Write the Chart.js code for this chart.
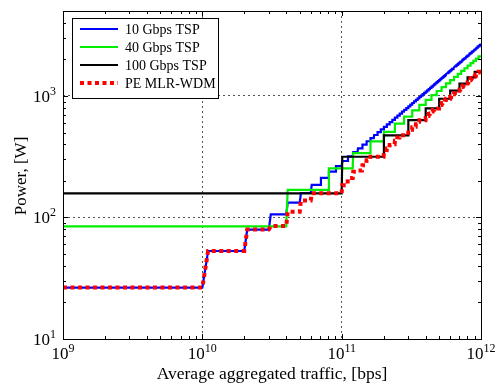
<!DOCTYPE html>
<html lang="en">
<head>
  <meta charset="UTF-8" />
  <title>Power vs. average aggregated traffic</title>
  <script src="https://cdn.jsdelivr.net/npm/chart.js"></script>
  <style>
    body { margin: 0; background: #fff; }
    .chart-box { position: relative; width: 497px; height: 383px; }
  </style>
</head>
<body>
  <div class="chart-box"><canvas id="powerChart"></canvas></div>

  <script>
    // each series is a staircase: one power level [W] per transponder step (Gbps)
    const seriesNames = ['10 Gbps TSP', '40 Gbps TSP', '100 Gbps TSP', 'PE MLR-WDM'];
    const stepGbps = [10, 40, 100, 10];

    const tsp10Power = [
      26.5, 53, 79.5, 106, 132.5, 159, 185.5, 212, 238.5, 265,
      291.5, 318, 344.5, 371, 397.5, 424, 450.5, 477, 503.5, 530,
      556.5, 583, 609.5, 636, 662.5, 689, 715.5, 742, 768.5, 795,
      821.5, 848, 874.5, 901, 927.5, 954, 980.5, 1007, 1033.5, 1060,
      1086.5, 1113, 1139.5, 1166, 1192.5, 1219, 1245.5, 1272, 1298.5, 1325,
      1351.5, 1378, 1404.5, 1431, 1457.5, 1484, 1510.5, 1537, 1563.5, 1590,
      1616.5, 1643, 1669.5, 1696, 1722.5, 1749, 1775.5, 1802, 1828.5, 1855,
      1881.5, 1908, 1934.5, 1961, 1987.5, 2014, 2040.5, 2067, 2093.5, 2120,
      2146.5, 2173, 2199.5, 2226, 2252.5, 2279, 2305.5, 2332, 2358.5, 2385,
      2411.5, 2438, 2464.5, 2491, 2517.5, 2544, 2570.5, 2597, 2623.5, 2650
    ];
    const tsp40Power = [
      84.5, 169, 253.5, 338, 422.5, 507, 591.5, 676, 760.5, 845,
      929.5, 1014, 1098.5, 1183, 1267.5, 1352, 1436.5, 1521, 1605.5, 1690,
      1774.5, 1859, 1943.5, 2028, 2112.5
    ];
    const tsp100Power = [158, 316, 474, 632, 790, 948, 1106, 1264, 1422, 1580];
    const mlrPower = [
      26.5, 53, 79.5, 85, 111.5, 138, 158, 158, 158, 158,
      184.5, 211, 237.5, 243, 269.5, 296, 316, 316, 316, 316,
      342.5, 369, 395.5, 401, 427.5, 454, 474, 474, 474, 474,
      500.5, 527, 553.5, 559, 585.5, 612, 632, 632, 632, 632,
      658.5, 685, 711.5, 717, 743.5, 770, 790, 790, 790, 790,
      816.5, 843, 869.5, 875, 901.5, 928, 948, 948, 948, 948,
      974.5, 1001, 1027.5, 1033, 1059.5, 1086, 1106, 1106, 1106, 1106,
      1132.5, 1159, 1185.5, 1191, 1217.5, 1244, 1264, 1264, 1264, 1264,
      1290.5, 1317, 1343.5, 1349, 1375.5, 1402, 1422, 1422, 1422, 1422,
      1448.5, 1475, 1501.5, 1507, 1533.5, 1560, 1580, 1580, 1580, 1580
    ];

    const xTicks = [1e9, 1e10, 1e11, 1e12];
    const xTickExp = ['9', '10', '11', '12'];
    const yTicks = [10, 100, 1000];
    const yTickExp = ['1', '2', '3'];

    const FONT = '"Liberation Serif", "Times New Roman", serif';

    // traffic sampled every 1 Gbps, so each jump spans 1 Gbps
    function staircase(levels, step) {
      const pts = [{ x: 1e9, y: levels[0] }];
      for (let i = 0; i < levels.length - 1; i++) {
        const edge = (i + 1) * step;
        pts.push({ x: edge * 1e9, y: levels[i] });
        pts.push({ x: (edge + 1) * 1e9, y: levels[i + 1] });
      }
      pts.push({ x: 1e12, y: levels[levels.length - 1] });
      return pts;
    }

    const allPower = [tsp10Power, tsp40Power, tsp100Power, mlrPower];
    const colors = ['#0000ff', '#00ee00', '#000000', '#ff0000'];
    const widths = [2.2, 2.2, 2.2, 4];
    const dashes = [[], [], [], [4, 3.5]];

    const datasets = seriesNames.map((name, i) => ({
      label: name,
      data: staircase(allPower[i], stepGbps[i]),
      borderColor: colors[i],
      borderWidth: widths[i],
      borderDash: dashes[i],
      pointRadius: 0,
      fill: false,
      order: 4 - i
    }));

    function powerLabel(ctx, exp, x, y, align) {
      ctx.font = '17px ' + FONT;
      const wb = ctx.measureText('10').width;
      ctx.font = '12px ' + FONT;
      const we = ctx.measureText(exp).width;
      const left = align === 'center' ? x - (wb + we) / 2 : x - wb - we;
      ctx.textAlign = 'left';
      ctx.textBaseline = 'alphabetic';
      ctx.font = '17px ' + FONT;
      ctx.fillText('10', left, y);
      ctx.font = '12px ' + FONT;
      ctx.fillText(exp, left + wb, y - 7);
    }

    const matlabAxes = {
      id: 'matlabAxes',
      afterDraw(chart) {
        const { ctx, chartArea: a, scales: { x, y } } = chart;
        ctx.save();
        ctx.strokeStyle = '#000';
        ctx.fillStyle = '#000';
        ctx.lineWidth = 1;

        // ticks pointing inward on all four sides
        ctx.beginPath();
        for (let d = 9; d <= 11; d++) {
          for (let m = 1; m <= 9; m++) {
            const px = Math.round(x.getPixelForValue(m * Math.pow(10, d))) + 0.5;
            const len = m === 1 ? 5 : 3;
            ctx.moveTo(px, a.bottom); ctx.lineTo(px, a.bottom - len);
            ctx.moveTo(px, a.top); ctx.lineTo(px, a.top + len);
          }
        }
        for (let d = 1; d <= 3; d++) {
          for (let m = 1; m <= 9; m++) {
            const v = m * Math.pow(10, d);
            if (v >= y.max) break;
            const py = Math.round(y.getPixelForValue(v)) + 0.5;
            const len = m === 1 ? 5 : 3;
            ctx.moveTo(a.left, py); ctx.lineTo(a.left + len, py);
            ctx.moveTo(a.right, py); ctx.lineTo(a.right - len, py);
          }
        }
        ctx.stroke();

        // frame
        ctx.strokeRect(Math.round(a.left) + 0.5, Math.round(a.top) + 0.5,
          Math.round(a.right - a.left), Math.round(a.bottom - a.top));

        // tick labels
        xTicks.forEach((v, i) => powerLabel(ctx, xTickExp[i], x.getPixelForValue(v), a.bottom + 20, 'center'));
        yTicks.forEach((v, i) => powerLabel(ctx, yTickExp[i], a.left - 7, y.getPixelForValue(v) + 6, 'right'));

        // axis titles
        ctx.font = '17.5px ' + FONT;
        ctx.textAlign = 'center';
        ctx.textBaseline = 'alphabetic';
        ctx.fillText('Average aggregated traffic, [bps]', (a.left + a.right) / 2, 379);
        ctx.save();
        ctx.translate(26, (a.top + a.bottom) / 2 + 1);
        ctx.rotate(-Math.PI / 2);
        ctx.font = '17px ' + FONT;
        ctx.fillText('Power, [W]', 0, 0);
        ctx.restore();

        // legend box, top left inside the axes
        const bx = 72.5, by = 18.5, bw = 146, bh = 80;
        ctx.fillStyle = '#fff';
        ctx.fillRect(bx, by, bw, bh);
        ctx.strokeStyle = '#000';
        ctx.lineWidth = 1;
        ctx.strokeRect(bx, by, bw, bh);
        chart.data.datasets.forEach((ds, i) => {
          const ly = 29 + i * 18;
          ctx.beginPath();
          ctx.strokeStyle = ds.borderColor;
          ctx.lineWidth = ds.borderWidth;
          ctx.setLineDash(ds.borderDash);
          ctx.moveTo(80, ly);
          ctx.lineTo(118, ly);
          ctx.stroke();
          ctx.setLineDash([]);
          ctx.fillStyle = '#000';
          ctx.font = '14px ' + FONT;
          ctx.textAlign = 'left';
          ctx.textBaseline = 'middle';
          ctx.fillText(ds.label, 125, ly + 1);
        });
        ctx.restore();
      }
    };

    const gridOpts = { color: '#555', lineWidth: 1, drawTicks: false };

    new Chart(document.getElementById('powerChart'), {
      type: 'line',
      data: { datasets: datasets },
      options: {
        responsive: true,
        maintainAspectRatio: false,
        animation: false,
        layout: { padding: { left: 63, right: 16, top: 11, bottom: 44 } },
        plugins: { legend: { display: false }, tooltip: { enabled: false } },
        elements: { line: { tension: 0 } },
        scales: {
          x: {
            type: 'logarithmic',
            min: 1e9,
            max: 1e12,
            afterBuildTicks: axis => { axis.ticks = xTicks.map(v => ({ value: v })); },
            afterFit: axis => { axis.height = 0; },
            ticks: { display: false },
            grid: gridOpts,
            border: { display: false, dash: [2, 3] }
          },
          y: {
            type: 'logarithmic',
            min: 10,
            max: 5000,
            afterBuildTicks: axis => { axis.ticks = yTicks.map(v => ({ value: v })); },
            afterFit: axis => { axis.width = 0; },
            ticks: { display: false },
            grid: gridOpts,
            border: { display: false, dash: [2, 3] }
          }
        }
      },
      plugins: [matlabAxes]
    });
  </script>
</body>
</html>
